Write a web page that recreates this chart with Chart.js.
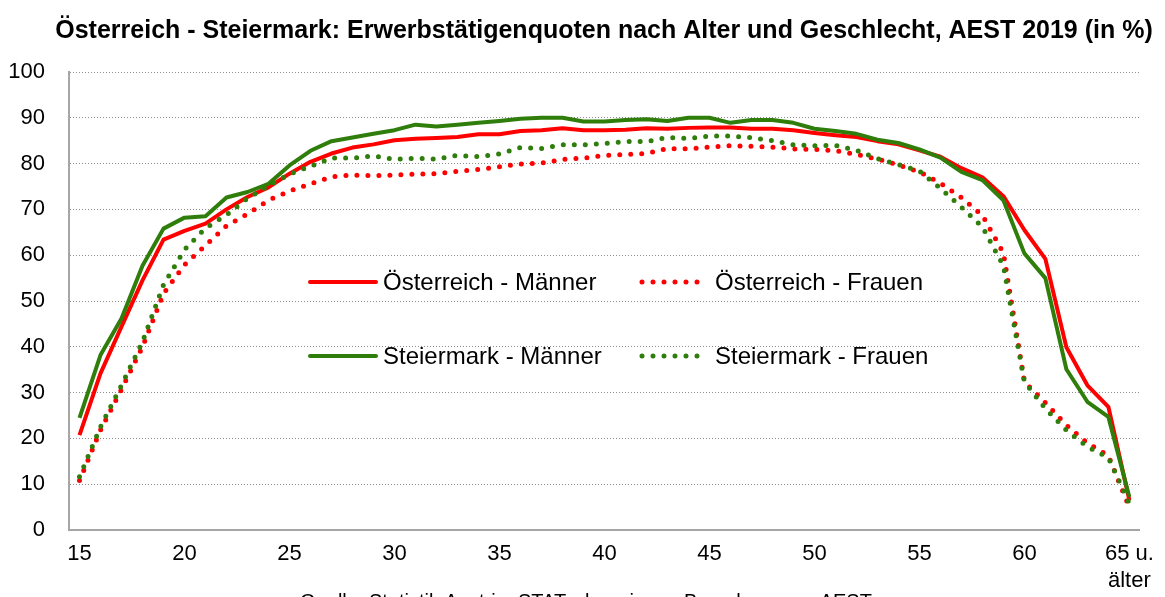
<!doctype html>
<html>
<head>
  <meta charset="utf-8">
  <title>Erwerbstätigenquoten AEST 2019</title>
  <style>
    html, body { margin:0; padding:0; background:#fff; }
    #wrap { width:1165px; height:597px; }
  </style>
  <script src="https://cdn.jsdelivr.net/npm/chart.js"></script>
</head>
<body>
  <div id="wrap"><canvas id="chart" width="1165" height="597"></canvas></div>

  <script>
    // Alter (Kategorien)
    const ages = ['15','16','17','18','19','20','21','22','23','24',
                  '25','26','27','28','29','30','31','32','33','34',
                  '35','36','37','38','39','40','41','42','43','44',
                  '45','46','47','48','49','50','51','52','53','54',
                  '55','56','57','58','59','60','61','62','63','64',
                  '65 u. älter'];
    const tickAges  = ['15','20','25','30','35','40','45','50','55','60','65 u. älter'];
    const tickTexts = ['15','20','25','30','35','40','45','50','55','60',['65 u.','älter']];

    // Erwerbstätigenquoten in %
    const oesterreichMaenner = [20.7,34.2,44.4,54.5,63.4,65.3,66.9,70.0,72.7,74.8,
                                77.8,80.4,82.2,83.5,84.2,85.1,85.4,85.6,85.8,86.4,
                                86.4,87.1,87.3,87.7,87.3,87.3,87.4,87.7,87.6,87.8,
                                87.9,87.9,87.6,87.6,87.3,86.7,86.2,85.8,84.9,84.2,
                                82.9,81.5,79.0,77.0,72.9,65.5,59.2,39.9,31.6,26.9,
                                6.5];
    const oesterreichFrauen  = [10.8,21.8,30.7,40.0,51.6,57.9,62.1,66.4,69.0,72.0,
                                74.0,75.6,77.1,77.5,77.4,77.5,77.7,77.8,78.3,78.7,
                                79.3,79.9,80.1,80.9,81.2,81.8,82.0,82.2,83.3,83.2,
                                83.6,83.9,83.8,83.6,83.2,83.1,82.8,82.0,81.0,79.7,
                                78.2,75.7,72.6,68.7,60.5,32.4,27.8,22.9,19.0,16.2,
                                4.9];
    const steiermarkMaenner  = [24.5,38.2,46.2,57.7,65.8,68.2,68.5,72.6,73.8,75.6,
                                79.6,82.8,84.9,85.7,86.5,87.3,88.5,88.1,88.5,88.9,
                                89.3,89.8,90.0,90.0,89.2,89.2,89.5,89.7,89.3,90.0,
                                90.0,88.9,89.5,89.5,88.9,87.6,87.1,86.5,85.2,84.5,
                                83.1,81.3,78.2,76.4,72.0,60.4,55.0,35.1,28.0,24.7,
                                7.2];
    const steiermarkFrauen   = [11.6,22.5,31.6,41.1,53.5,61.2,65.9,68.8,72.4,75.2,
                                77.7,79.4,81.2,81.2,81.7,80.9,81.2,81.0,81.8,81.5,
                                82.1,83.5,83.3,84.1,84.1,84.4,84.8,84.8,85.7,85.5,
                                86.0,86.0,85.7,85.0,84.1,83.9,84.0,82.9,81.1,79.8,
                                78.4,74.6,70.5,66.2,57.7,32.4,26.5,21.8,18.2,15.8,
                                5.8];

    const RED = '#ff0000';
    const GREEN = '#2f7d0a';
    const FONT = '"Liberation Sans", Arial, sans-serif';

    // Legende sitzt mitten im Diagramm, 2 x 2
    const insideLegend = {
      id: 'insideLegend',
      afterDatasetsDraw(chart, args, opts) {
        const ctx = chart.ctx;
        ctx.save();
        opts.items.forEach(it => {
          const ds = chart.data.datasets[it.index];
          ctx.beginPath();
          ctx.strokeStyle = ds.borderColor;
          ctx.lineWidth = ds.borderWidth;
          ctx.setLineDash(ds.borderDash || []);
          ctx.lineCap = 'round';
          ctx.moveTo(it.x + 2, it.y);
          ctx.lineTo(it.x + opts.lineLength - 2, it.y);
          ctx.stroke();
          ctx.setLineDash([]);
          ctx.fillStyle = '#000';
          ctx.font = opts.font;
          ctx.textBaseline = 'middle';
          ctx.fillText(ds.label, it.x + opts.lineLength + opts.gap, it.y + 1);
        });
        ctx.restore();
      }
    };

    // Titel und Quelle
    const texts = {
      id: 'texts',
      afterDraw(chart, args, opts) {
        const ctx = chart.ctx;
        ctx.save();
        ctx.fillStyle = '#000';
        ctx.textAlign = 'center';
        ctx.textBaseline = 'middle';
        ctx.font = opts.titleFont;
        ctx.fillText(opts.title, opts.titleX, opts.titleY);
        ctx.textBaseline = 'top';
        ctx.font = opts.sourceFont;
        ctx.fillText(opts.source, opts.sourceX, opts.sourceY);
        ctx.restore();
      }
    };

    new Chart(document.getElementById('chart'), {
      type: 'line',
      data: {
        labels: ages,
        datasets: [
          { label: 'Österreich - Männer', data: oesterreichMaenner, borderColor: RED,
            borderWidth: 4, order: 4 },
          { label: 'Österreich - Frauen', data: oesterreichFrauen, borderColor: RED,
            borderWidth: 5, borderDash: [0, 11], borderCapStyle: 'round', order: 3 },
          { label: 'Steiermark - Männer', data: steiermarkMaenner, borderColor: GREEN,
            borderWidth: 4, order: 2 },
          { label: 'Steiermark - Frauen', data: steiermarkFrauen, borderColor: GREEN,
            borderWidth: 5, borderDash: [0, 11], borderCapStyle: 'round', order: 1 }
        ]
      },
      options: {
        responsive: false,
        animation: false,
        layout: { padding: { top: 72, right: 17, left: 0, bottom: 0 } },
        elements: {
          point: { radius: 0, hoverRadius: 0 },
          line: { tension: 0, fill: false, borderJoinStyle: 'round' }
        },
        plugins: {
          legend: { display: false },
          tooltip: { enabled: false },
          insideLegend: {
            lineLength: 70,
            gap: 5,
            font: '24px ' + FONT,
            items: [
              { index: 0, x: 308, y: 282 },
              { index: 1, x: 640, y: 282 },
              { index: 2, x: 308, y: 356 },
              { index: 3, x: 640, y: 356 }
            ]
          },
          texts: {
            title: 'Österreich - Steiermark: Erwerbstätigenquoten nach Alter und Geschlecht, AEST 2019 (in %)',
            titleFont: 'bold 25px ' + FONT,
            titleX: 604, titleY: 31,
            source: 'Quelle: Statistik Austria, STATcube; eigene Berechnungen AEST',
            sourceFont: '20px ' + FONT,
            sourceX: 586, sourceY: 592
          }
        },
        scales: {
          x: {
            type: 'category',
            offset: true,
            afterFit(s) { s.height = 67; },
            grid: { display: false, drawTicks: false },
            border: { display: true, color: '#a6a6a6', width: 2 },
            ticks: {
              autoSkip: false,
              maxRotation: 0,
              minRotation: 0,
              padding: 11,
              color: '#000',
              font: { family: FONT, size: 22 },
              callback(value) {
                const i = tickAges.indexOf(this.getLabelForValue(value));
                return i >= 0 ? tickTexts[i] : '';
              }
            }
          },
          y: {
            min: 0,
            max: 100,
            afterFit(s) { s.width = 69; },
            grid: { color: '#8c8c8c', lineWidth: 1, drawTicks: false },
            border: { display: true, color: '#a6a6a6', width: 2, dash: [1, 2] },
            ticks: {
              stepSize: 10,
              padding: 24,
              color: '#000',
              font: { family: FONT, size: 22 }
            }
          }
        }
      },
      plugins: [insideLegend, texts]
    });
  </script>
</body>
</html>
